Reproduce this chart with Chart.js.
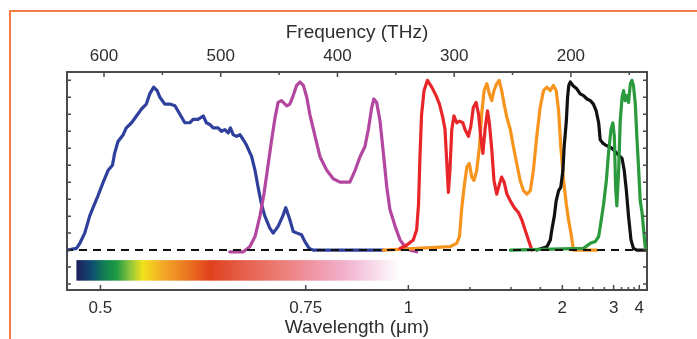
<!DOCTYPE html>
<html>
<head>
<meta charset="utf-8">
<script src="https://cdn.jsdelivr.net/npm/chart.js@4/dist/chart.umd.min.js"></script>
<style>
  body { margin: 0; background: #fff; }
  #wrap { position: relative; width: 697px; height: 339px; }
  #edge {
    position: absolute; left: 9px; top: 10px; right: 0; bottom: 0;
    border-top: 2px solid #f47c45; border-left: 2px solid #f47c45;
    pointer-events: none;
  }
</style>
</head>
<body>
<div id="wrap">
  <canvas id="filters" width="697" height="339"></canvas>
  <div id="edge"></div>
</div>
<script>
// x values are wavenumber 1/λ (µm⁻¹), y values are normalised transmission
const blueX = [2.1085, 2.078, 2.067, 2.051, 2.035, 2.024, 2.008, 1.991, 1.975, 1.961, 1.954, 1.943, 1.926, 1.916, 1.899, 1.883, 1.867, 1.851, 1.840, 1.827, 1.816, 1.807, 1.791, 1.775, 1.758, 1.742, 1.726, 1.710, 1.699, 1.683, 1.666, 1.656, 1.645, 1.634, 1.618, 1.607, 1.596, 1.585, 1.578, 1.569, 1.558, 1.547, 1.536, 1.526, 1.509, 1.498, 1.488, 1.477, 1.466, 1.450, 1.439, 1.423, 1.408, 1.398, 1.385, 1.374, 1.361, 1.347, 1.336, 1.322, 1.309, 1.081];
const blueY = [0, 0.01, 0.04, 0.10, 0.20, 0.25, 0.32, 0.40, 0.47, 0.50, 0.57, 0.64, 0.68, 0.72, 0.75, 0.79, 0.83, 0.86, 0.92, 0.96, 0.94, 0.90, 0.86, 0.86, 0.85, 0.80, 0.75, 0.75, 0.77, 0.77, 0.79, 0.75, 0.74, 0.72, 0.72, 0.70, 0.71, 0.69, 0.72, 0.68, 0.67, 0.68, 0.65, 0.62, 0.55, 0.47, 0.37, 0.27, 0.20, 0.13, 0.10, 0.14, 0.20, 0.25, 0.18, 0.11, 0.10, 0.09, 0.05, 0.01, 0, 0];

const violetX = [1.580, 1.536, 1.515, 1.498, 1.482, 1.469, 1.458, 1.444, 1.433, 1.423, 1.412, 1.395, 1.385, 1.374, 1.363, 1.352, 1.341, 1.330, 1.320, 1.303, 1.287, 1.265, 1.244, 1.222, 1.190, 1.173, 1.157, 1.141, 1.130, 1.119, 1.112, 1.103, 1.092, 1.081, 1.070, 1.060, 1.043, 1.027, 1.011, 0.995, 0.973];
const violetY = [-0.01, -0.01, 0.02, 0.08, 0.20, 0.33, 0.47, 0.65, 0.78, 0.87, 0.88, 0.85, 0.86, 0.91, 0.97, 0.99, 0.97, 0.90, 0.80, 0.67, 0.55, 0.47, 0.42, 0.40, 0.40, 0.47, 0.55, 0.61, 0.71, 0.84, 0.89, 0.87, 0.76, 0.57, 0.37, 0.24, 0.14, 0.06, 0.02, 0, -0.01];

const redX = [1.027, 1.005, 0.984, 0.973, 0.967, 0.962, 0.957, 0.949, 0.938, 0.924, 0.910, 0.899, 0.888, 0.881, 0.875, 0.870, 0.865, 0.859, 0.852, 0.843, 0.834, 0.823, 0.816, 0.805, 0.797, 0.789, 0.780, 0.772, 0.765, 0.758, 0.751, 0.743, 0.737, 0.729, 0.722, 0.713, 0.704, 0.697, 0.689, 0.680, 0.669, 0.656, 0.642, 0.632, 0.621, 0.610, 0.599];
const redY = [0.01, 0.03, 0.06, 0.12, 0.27, 0.57, 0.80, 0.94, 1.00, 0.96, 0.91, 0.86, 0.78, 0.71, 0.51, 0.34, 0.47, 0.71, 0.79, 0.75, 0.76, 0.75, 0.71, 0.67, 0.73, 0.84, 0.87, 0.80, 0.67, 0.57, 0.71, 0.82, 0.75, 0.59, 0.41, 0.33, 0.39, 0.43, 0.40, 0.33, 0.29, 0.25, 0.22, 0.18, 0.12, 0.06, 0];

const orangeX = [1.081, 0.865, 0.843, 0.834, 0.827, 0.819, 0.810, 0.802, 0.794, 0.787, 0.778, 0.769, 0.762, 0.754, 0.745, 0.737, 0.729, 0.722, 0.713, 0.705, 0.697, 0.689, 0.680, 0.669, 0.659, 0.648, 0.637, 0.626, 0.615, 0.604, 0.594, 0.583, 0.572, 0.561, 0.550, 0.539, 0.529, 0.520, 0.512, 0.505, 0.496, 0.487, 0.480, 0.472, 0.464, 0.388];
const orangeY = [0, 0.02, 0.04, 0.08, 0.24, 0.37, 0.49, 0.51, 0.43, 0.41, 0.47, 0.61, 0.80, 0.94, 0.98, 0.92, 0.88, 0.94, 0.98, 1.00, 0.94, 0.86, 0.78, 0.71, 0.61, 0.51, 0.41, 0.35, 0.33, 0.35, 0.47, 0.67, 0.84, 0.94, 0.96, 0.94, 0.97, 0.94, 0.82, 0.61, 0.41, 0.27, 0.18, 0.10, 0, 0];

const blackX = [0.583, 0.550, 0.539, 0.534, 0.526, 0.520, 0.512, 0.505, 0.498, 0.494, 0.487, 0.483, 0.479, 0.474, 0.466, 0.453, 0.442, 0.431, 0.420, 0.409, 0.399, 0.390, 0.382, 0.377, 0.368, 0.361, 0.350, 0.339, 0.328, 0.317, 0.306, 0.299, 0.292, 0.285, 0.277, 0.269, 0.258, 0.225];
const blackY = [0, 0.02, 0.06, 0.12, 0.20, 0.29, 0.35, 0.37, 0.47, 0.61, 0.76, 0.90, 0.97, 0.99, 0.97, 0.95, 0.92, 0.91, 0.89, 0.88, 0.86, 0.82, 0.75, 0.65, 0.63, 0.62, 0.61, 0.60, 0.58, 0.56, 0.54, 0.47, 0.35, 0.20, 0.06, 0.01, 0, 0];

const greenX = [0.669, 0.431, 0.409, 0.393, 0.382, 0.375, 0.366, 0.357, 0.350, 0.342, 0.336, 0.331, 0.327, 0.323, 0.317, 0.312, 0.306, 0.301, 0.296, 0.290, 0.285, 0.279, 0.274, 0.269, 0.263, 0.258, 0.252, 0.247, 0.241, 0.236, 0.231, 0.225];
const greenY = [0, 0.01, 0.04, 0.05, 0.08, 0.16, 0.27, 0.41, 0.57, 0.71, 0.75, 0.67, 0.37, 0.26, 0.47, 0.76, 0.90, 0.94, 0.88, 0.91, 0.87, 0.98, 1.00, 0.97, 0.86, 0.67, 0.47, 0.29, 0.22, 0.12, 0.02, 0];

// axis ticks
const wavelengthTicks = [0.5, 0.75, 1, 1.25, 1.5, 1.75, 2, 2.25, 2.5, 2.75, 3, 3.25, 3.5, 3.75, 4];
const wavelengthLabelled = [0.5, 0.75, 1, 2, 3, 4];
const frequencyTicks = [600, 550, 500, 450, 400, 350, 300, 250, 200, 150];
const frequencyLabelled = [600, 500, 400, 300, 200];
const levelTicks = [-0.2, -0.1, 0, 0.1, 0.2, 0.3, 0.4, 0.5, 0.6, 0.7, 0.8, 0.9, 1.0];

const frameColor = '#4a4a4a';
const textColor = '#2e2e2e';

// visible-spectrum strip under the curves
const spectrumBar = { from: 2.078, to: 1.027, top: -0.059, bottom: -0.18 };
const spectrumStops = [
  [0, '#201c5c'], [0.05, '#0f5070'], [0.093, '#13864e'], [0.124, '#1f9b45'],
  [0.165, '#8cc43c'], [0.206, '#f1e21c'], [0.258, '#f3b025'], [0.31, '#ee8c24'],
  [0.361, '#e9681f'], [0.413, '#e0411d'], [0.516, '#e65f4c'], [0.619, '#ec7a70'],
  [0.722, '#ef93a0'], [0.825, '#f2b0cb'], [0.897, '#f6cfe2'], [1, '#ffffff']
];

function series(xs, ys) {
  return xs.map((x, i) => ({ x: x, y: ys[i] }));
}

function line(label, xs, ys, color) {
  return {
    label: label,
    data: series(xs, ys),
    borderColor: color,
    borderWidth: 3.2,
    pointRadius: 0,
    tension: 0,
    borderJoinStyle: 'round',
    borderCapStyle: 'round'
  };
}

const xMin = 0.225, xMax = 2.1086;

const spectrumPlugin = {
  id: 'spectrum',
  beforeDatasetsDraw(chart) {
    const { ctx, scales } = chart;
    const x0 = scales.x.getPixelForValue(spectrumBar.from);
    const x1 = scales.x.getPixelForValue(spectrumBar.to);
    const y0 = scales.y.getPixelForValue(spectrumBar.top);
    const y1 = scales.y.getPixelForValue(spectrumBar.bottom);
    const g = ctx.createLinearGradient(x0, 0, x1, 0);
    spectrumStops.forEach(s => g.addColorStop(s[0], s[1]));
    ctx.save();
    ctx.fillStyle = g;
    ctx.fillRect(x0, y0, x1 - x0, y1 - y0);
    ctx.restore();
  }
};

// tick marks pointing into the plot
const inwardTicks = {
  id: 'inwardTicks',
  afterDraw(chart) {
    const { ctx, chartArea: a, scales } = chart;
    ctx.save();
    ctx.strokeStyle = frameColor;
    ctx.lineWidth = 1.5;
    ctx.beginPath();
    [['x', a.bottom, -1], ['x2', a.top, 1]].forEach(([id, edge, dir]) => {
      const s = scales[id];
      s.ticks.forEach(t => {
        const px = s.getPixelForValue(t.value);
        const len = t.label ? 5 : 3;
        ctx.moveTo(px, edge);
        ctx.lineTo(px, edge + dir * len);
      });
    });
    [['y', a.left, 1], ['y2', a.right, -1]].forEach(([id, edge, dir]) => {
      const s = scales[id];
      s.ticks.forEach(t => {
        const py = s.getPixelForValue(t.value);
        ctx.moveTo(edge, py);
        ctx.lineTo(edge + dir * 4, py);
      });
    });
    ctx.stroke();
    ctx.restore();
  }
};

const font = { family: "'Liberation Sans', Arial, sans-serif", size: 17 };
const titleFont = { family: "'Liberation Sans', Arial, sans-serif", size: 19 };

new Chart(document.getElementById('filters'), {
  type: 'line',
  data: {
    datasets: [
      {
        label: 'baseline',
        data: [{ x: xMin, y: 0 }, { x: xMax, y: 0 }],
        borderColor: '#111',
        borderWidth: 2,
        borderDash: [8, 6],
        pointRadius: 0
      },
      line('green', greenX, greenY, '#2a9a3c'),
      line('black', blackX, blackY, '#111111'),
      line('red', redX, redY, '#e8262a'),
      line('orange', orangeX, orangeY, '#f7941d'),
      line('violet', violetX, violetY, '#b3479f'),
      line('blue', blueX, blueY, '#2f3f9c')
    ]
  },
  options: {
    responsive: false,
    devicePixelRatio: 1,
    animation: false,
    layout: { padding: 0 },
    plugins: { legend: { display: false }, tooltip: { enabled: false } },
    scales: {
      x: {
        type: 'linear',
        position: 'bottom',
        min: xMin,
        max: xMax,
        reverse: true,
        afterBuildTicks: s => { s.ticks = wavelengthTicks.map(w => ({ value: 1 / w })); },
        afterFit: s => { s.height = 49; },
        grid: { display: false, drawTicks: false },
        border: { display: true, color: frameColor, width: 2 },
        ticks: {
          autoSkip: false,
          maxRotation: 0,
          padding: 8,
          color: textColor,
          font: font,
          callback: (v, i) => wavelengthLabelled.includes(wavelengthTicks[i]) ? String(wavelengthTicks[i]) : ''
        },
        title: {
          display: true,
          text: 'Wavelength (μm)',
          color: textColor,
          font: titleFont,
          padding: { top: 0, bottom: 0 }
        }
      },
      x2: {
        type: 'linear',
        position: 'top',
        min: 134.8,
        max: 631.7,
        reverse: true,
        afterBuildTicks: s => { s.ticks = frequencyTicks.map(f => ({ value: f })); },
        afterFit: s => { s.height = 72; },
        grid: { display: false, drawTicks: false },
        border: { display: true, color: frameColor, width: 2 },
        ticks: {
          autoSkip: false,
          maxRotation: 0,
          padding: 5,
          color: textColor,
          font: font,
          callback: v => frequencyLabelled.includes(v) ? String(v) : ''
        },
        title: {
          display: true,
          text: 'Frequency (THz)',
          color: textColor,
          font: titleFont,
          padding: { top: 21, bottom: 0 }
        }
      },
      y: {
        type: 'linear',
        position: 'left',
        min: -0.235,
        max: 1.049,
        afterBuildTicks: s => { s.ticks = levelTicks.map(v => ({ value: v })); },
        afterFit: s => { s.width = 67; },
        grid: { display: false, drawTicks: false },
        border: { display: true, color: frameColor, width: 2 },
        ticks: { display: false }
      },
      y2: {
        type: 'linear',
        position: 'right',
        min: -0.235,
        max: 1.049,
        afterBuildTicks: s => { s.ticks = levelTicks.map(v => ({ value: v })); },
        afterFit: s => { s.width = 50; },
        grid: { display: false, drawTicks: false },
        border: { display: true, color: frameColor, width: 2 },
        ticks: { display: false }
      }
    }
  },
  plugins: [spectrumPlugin, inwardTicks]
});
</script>
</body>
</html>
